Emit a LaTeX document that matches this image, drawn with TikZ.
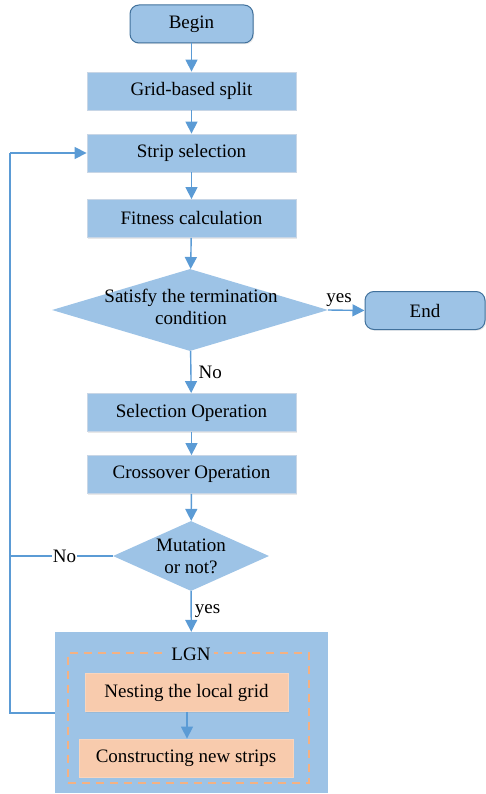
\documentclass[tikz,border=0pt]{standalone}
\usepackage{fontspec}
\setmainfont{Liberation Serif}
\usetikzlibrary{shapes.geometric,arrows.meta,shadows}
\definecolor{boxblue}{HTML}{9DC3E6}
\definecolor{edgeblue}{HTML}{5B9BD5}
\definecolor{darkblue}{HTML}{41719C}
\definecolor{boxedge}{HTML}{C8D6E6}
\definecolor{orangefill}{HTML}{F8CBAD}
\definecolor{orangeedge}{HTML}{F4B183}
\tikzset{
  procbox/.style={rectangle, fill=boxblue, draw=boxedge, line width=0.8pt,
    minimum width=209pt, minimum height=38pt, inner sep=0pt,
    drop shadow={opacity=0.18, shadow xshift=1.2pt, shadow yshift=-1.2pt}},
  termbox/.style={rectangle, rounded corners=9pt, fill=boxblue, draw=darkblue, line width=1pt,
    minimum height=38pt, inner sep=0pt,
    drop shadow={opacity=0.18, shadow xshift=1.2pt, shadow yshift=-1.2pt}},
  decbox/.style={diamond, fill=boxblue, inner sep=0pt},
  dectext/.style={align=center, inner sep=0pt},
  orangebox/.style={rectangle, fill=orangefill, draw=orangefill!80!white, line width=0.8pt,
    minimum height=38pt, inner sep=0pt,
    drop shadow={opacity=0.15, shadow xshift=1pt, shadow yshift=-1pt}},
  flow/.style={draw=edgeblue, line width=1.4pt, -{Triangle[length=12pt,width=12pt]}},
  plainline/.style={draw=edgeblue, line width=1.4pt},
  lbl/.style={inner sep=1pt},
}
\begin{document}
\begin{tikzpicture}[x=1pt,y=-1pt,font=\fontsize{19}{22}\selectfont]
\useasboundingbox (0,0) rectangle (486,794);
% LGN container
\node[rectangle, fill=boxblue, minimum width=273pt, minimum height=161pt, inner sep=0pt] (lgn) at (191.5,712.5) {};
\node[rectangle, draw=orangeedge, dashed, dash pattern=on 8pt off 6pt, line width=1.1pt,
  minimum width=241pt, minimum height=130pt, inner sep=0pt] (dash) at (188.5,718) {};
\node[fill=boxblue, inner sep=3pt] (lgnt) at (191,654) {LGN};
\node[orangebox, minimum width=203pt] (nest) at (186.5,692.5) {Nesting the local grid};
\node[orangebox, minimum width=214pt] (cons) at (186,758) {Constructing new strips};

\node[termbox, minimum width=123pt] (begin) at (191.5,24) {Begin};
\node[procbox] (grid) at (191.5,91) {Grid-based split};
\node[procbox] (strip) at (191.5,153) {Strip selection};
\node[procbox] (fit) at (191.5,218.5) {Fitness calculation};
\node[decbox, minimum width=276pt, minimum height=82pt, aspect=3.37] (term) at (190,310) {};
\node[dectext] (termtxt) at (191,307) {Satisfy the termination\\condition};
\node[termbox, minimum width=120pt] (end) at (425,310.5) {End};
\node[procbox] (sel) at (191.5,412.5) {Selection Operation};
\node[procbox] (cross) at (191.5,474.5) {Crossover Operation};
\node[decbox, minimum width=156pt, minimum height=70pt, aspect=2.25] (mut) at (191,556) {};
\node[dectext] (muttxt) at (191,556) {Mutation\\or not?};

\coordinate (lb) at (10,713);
\coordinate (lt) at (10,153);
\coordinate (lm) at (10,556);

\draw[flow] (begin) -- (grid);
\draw[flow] (grid) -- (strip);
\draw[flow] (strip) -- (fit);
\draw[flow] (fit) -- (term);
\draw[flow] (term.east) -- (end.west) node[lbl, pos=0.3, above=2pt] {yes};
\draw[flow] (term) -- (sel) node[lbl, midway, right=6pt] {No};
\draw[flow] (sel) -- (cross);
\draw[flow] (cross) -- (mut);
\draw[flow] (mut) -- (lgn) node[lbl, midway, right=2pt] {yes};
\draw[flow] (nest.south -| 187,0) -- (cons.north -| 187,0);
\draw[plainline] (mut.west) -- (lm) node[fill=white, inner sep=1pt, pos=0.47] (no2) {No};
\draw[plainline] (lgn.west |- lb) -- (lb) -- (lt);
\draw[flow] (lt) -- (strip.west);
\end{tikzpicture}
\end{document}
